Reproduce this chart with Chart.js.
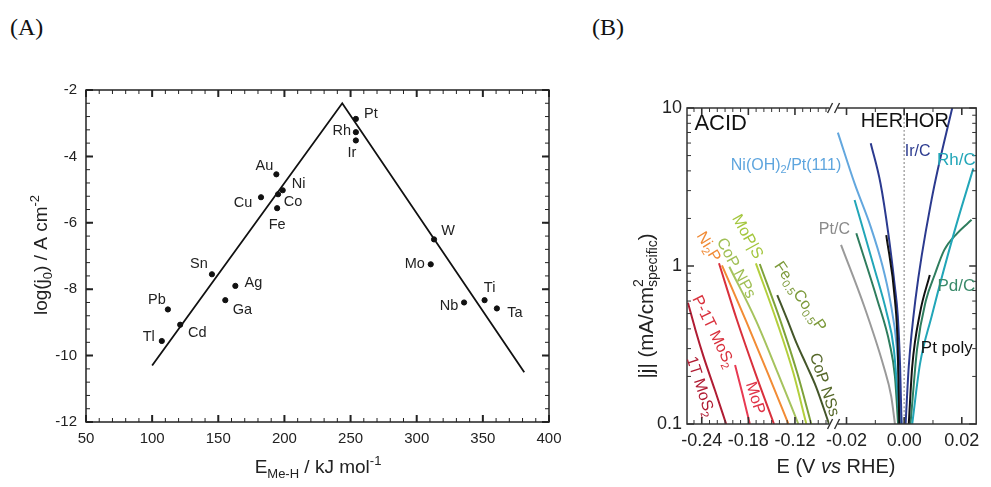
<!DOCTYPE html>
<html>
<head>
<meta charset="utf-8">
<script src="https://cdn.jsdelivr.net/npm/chart.js@4.4.1/dist/chart.umd.min.js"></script>
<style>
  body { margin: 0; background: #fff; width: 991px; height: 487px; position: relative; overflow: hidden; }
  .tag { position: absolute; top: 14px; font: 24px "Liberation Serif", "Times New Roman", serif; color: #111; }
  canvas { position: absolute; top: 0; }
</style>
</head>
<body>
<div class="tag" style="left:10px">(A)</div>
<div class="tag" style="left:592px">(B)</div>
<canvas id="chartA" width="575" height="487" style="left:0"></canvas>
<canvas id="chartB" width="416" height="487" style="left:575px"></canvas>
<script>
// ---- panel A : volcano plot ----
const metals = ['Pt', 'Rh', 'Ir', 'Au', 'Ni', 'Co', 'Cu', 'Fe', 'W', 'Mo', 'Sn', 'Ag', 'Ga', 'Pb', 'Cd', 'Tl', 'Ti', 'Nb', 'Ta'];
const bondEnergy = [254, 254, 254, 193.9, 198.7, 195.2, 182.3, 194.5, 313.1, 310.6, 145.2, 162.9, 155.3, 111.9, 121.2, 107.3, 351.3, 335.8, 360.6];
const logJ0 = [-2.87, -3.27, -3.52, -4.54, -5.02, -5.14, -5.23, -5.56, -6.50, -7.25, -7.55, -7.90, -8.33, -8.61, -9.07, -9.56, -8.33, -8.40, -8.58];
const volcanoE = [100, 243.7, 381.3];
const volcanoLogJ = [-10.3, -2.4, -10.5];
const xTicksA = [50, 100, 150, 200, 250, 300, 350, 400];
const yTicksA = [-12, -10, -8, -6, -4, -2];

// ---- panel B : polarization curves (E in V vs RHE, |j| in mA/cm2) ----
const e1TMoS2 = [-0.2578, -0.2481, -0.2377, -0.2231, -0.2086];
const j1TMoS2 = [0.586, 0.394, 0.267, 0.164, 0.1];
const eP1TMoS2 = [-0.2178, -0.1950, -0.1710, -0.1470];
const jP1TMoS2 = [1.04, 0.46, 0.21, 0.1];
const eMoP = [-0.1971, -0.1875, -0.1781];
const jMoP = [0.236, 0.155, 0.1];
const eNi2P = [-0.2140, -0.1830, -0.1550, -0.1284];
const jNi2P = [1.01, 0.45, 0.21, 0.1];
const eCoPNPs = [-0.2045, -0.1700, -0.1420, -0.1156];
const jCoPNPs = [0.99, 0.45, 0.21, 0.1];
const eMoPS = [-0.1703, -0.1430, -0.1220, -0.1053];
const jMoPS = [1.04, 0.44, 0.21, 0.1];
const eFeCoP = [-0.1653, -0.1380, -0.1170, -0.0990];
const jFeCoP = [1.03, 0.44, 0.21, 0.1];
const eCoPNSs = [-0.1428, -0.1300, -0.1178, -0.1050, -0.0928, -0.0761];
const jCoPNSs = [0.655, 0.46, 0.324, 0.235, 0.172, 0.1];

const eNiOHPt = [-0.0230, -0.0172, -0.0116, -0.0075, -0.0049, -0.0025, -0.0009];
const jNiOHPt = [6.98, 3.33, 1.77, 1.0, 0.61, 0.3, 0.1];
const eIrHer = [-0.0116, -0.0082, -0.0055, -0.0033, -0.0022, -0.0014, -0.0009];
const jIrHer = [5.99, 3.33, 1.61, 0.76, 0.48, 0.23, 0.1];
const eIrHor = [0.0005, 0.0016, 0.0039, 0.0095, 0.0173];
const jIrHor = [0.1, 0.231, 0.61, 2.62, 11.2];
const eRhHer = [-0.0172, -0.0105, -0.0060, -0.0036, -0.0015];
const jRhHer = [2.62, 0.99, 0.5, 0.3, 0.1];
const eRhHor = [0.0028, 0.0055, 0.0095, 0.0173, 0.0240];
const jRhHor = [0.1, 0.24, 0.478, 1.62, 4.15];
const ePdHer = [-0.0166, -0.0093, -0.0050, -0.0032, -0.0021];
const jPdHer = [1.61, 0.61, 0.32, 0.2, 0.1];
const ePdHor = [0.0022, 0.0045, 0.0075, 0.0106, 0.0139, 0.0184, 0.0234];
const jPdHor = [0.1, 0.3, 0.6, 0.88, 1.26, 1.61, 1.96];
const ePtPolyHer = [-0.0062, -0.0032, -0.0022, -0.0017];
const jPtPolyHer = [1.57, 0.61, 0.3, 0.1];
const ePtPolyHor = [0.0016, 0.0028, 0.0055, 0.0089];
const jPtPolyHor = [0.1, 0.231, 0.505, 0.877];
const ePtC = [-0.0219, -0.0138, -0.0071, -0.0045, -0.0032];
const jPtC = [1.36, 0.552, 0.231, 0.15, 0.1];
const zeroE = [0, 0];
const zeroJ = [0.1, 10];

const xTicksL = [-0.24, -0.18, -0.12];
const xTicksR = [-0.02, 0, 0.02];
const yTicksB = [0.1, 1, 10];

const FONT = '"Liberation Sans", Arial, Helvetica, sans-serif';

// label placement (pixel offsets from the dot)
const labelOffsetA = {
  Pt: [15, -5], Rh: [-14, -1], Ir: [-4, 13], Au: [-12, -8], Ni: [16, -6], Co: [15, 8],
  Cu: [-18, 6], Fe: [0, 17], W: [14, -8], Mo: [-16, 0], Sn: [-13, -10], Ag: [18, -3],
  Ga: [17, 10], Pb: [-11, -9], Cd: [17, 8], Tl: [-13, -4], Ti: [5, -12], Nb: [-15, 4], Ta: [18, 5]
};

function range(a, b, step) {
  const out = [];
  for (let v = a; v <= b + step / 1000; v += step) out.push(+v.toFixed(6));
  return out;
}

// tiny rich-text: _{sub} ^{sup} *italic*
function parseRich(s) {
  const parts = [];
  s.split(/(\^\{[^}]*\}|_\{[^}]*\}|\*[^*]*\*)/).forEach(tok => {
    if (!tok) return;
    if (tok[0] === '^' || tok[0] === '_') {
      const key = tok[0] === '^' ? 'sup' : 'sub';
      const val = tok.slice(2, -1);
      const last = parts[parts.length - 1];
      if (last && last.t === undefined && !last[key]) last[key] = val;
      else parts.push({ [key]: val });
    } else if (tok[0] === '*') {
      parts.push({ t: tok.slice(1, -1), it: true });
    } else {
      parts.push({ t: tok });
    }
  });
  return parts;
}

function richText(ctx, str, x, y, size, color, angleDeg) {
  const parts = parseRich(str);
  const small = Math.round(size * 0.7);
  const font = (s, it) => (it ? 'italic ' : '') + s + 'px ' + FONT;
  ctx.save();
  ctx.translate(x, y);
  ctx.rotate((angleDeg || 0) * Math.PI / 180);
  ctx.fillStyle = color;
  ctx.textBaseline = 'middle';
  ctx.textAlign = 'left';
  let total = 0;
  const widths = parts.map(p => {
    let w;
    if (p.t !== undefined) {
      ctx.font = font(size, p.it);
      w = ctx.measureText(p.t).width;
    } else {
      ctx.font = font(small);
      w = Math.max(ctx.measureText(p.sub || '').width, ctx.measureText(p.sup || '').width);
    }
    total += w;
    return w;
  });
  let cx = -total / 2;
  parts.forEach((p, i) => {
    if (p.t !== undefined) {
      ctx.font = font(size, p.it);
      ctx.fillText(p.t, cx, 0);
    } else {
      ctx.font = font(small);
      if (p.sup) ctx.fillText(p.sup, cx, -size * 0.36);
      if (p.sub) ctx.fillText(p.sub, cx, size * 0.32);
    }
    cx += widths[i];
  });
  ctx.restore();
}

function tickMarks(ctx, scale, values, len, area, horizontal) {
  values.forEach(v => {
    const p = scale.getPixelForValue(v);
    if (horizontal) {
      if (p < scale.left - 0.5 || p > scale.right + 0.5) return;
      ctx.moveTo(p, area.bottom); ctx.lineTo(p, area.bottom - len);
      ctx.moveTo(p, area.top); ctx.lineTo(p, area.top + len);
    } else {
      if (p < area.top - 0.5 || p > area.bottom + 0.5) return;
      ctx.moveTo(area.left, p); ctx.lineTo(area.left + len, p);
      ctx.moveTo(area.right, p); ctx.lineTo(area.right - len, p);
    }
  });
}

const fixedTicks = vals => scale => { scale.ticks = vals.map(v => ({ value: v })); };

// ================= chart A =================
const frameA = {
  id: 'frameA',
  afterDatasetsDraw(chart) {
    const { ctx, chartArea: a, scales: { x, y } } = chart;
    ctx.save();
    ctx.strokeStyle = '#222';
    ctx.lineWidth = 1.5;
    ctx.strokeRect(a.left, a.top, a.right - a.left, a.bottom - a.top);
    ctx.beginPath();
    tickMarks(ctx, x, xTicksA, 7, a, true);
    tickMarks(ctx, y, yTicksA, 7, a, false);
    ctx.lineWidth = 2;
    ctx.stroke();
    ctx.beginPath();
    tickMarks(ctx, x, range(50, 400, 10).filter(v => v % 50 !== 0), 4, a, true);
    tickMarks(ctx, y, range(-12, -2, 0.4), 4, a, false);
    ctx.lineWidth = 1;
    ctx.stroke();

    ctx.font = '14.5px ' + FONT;
    ctx.fillStyle = '#222';
    ctx.textAlign = 'center';
    ctx.textBaseline = 'middle';
    metals.forEach((m, i) => {
      const o = labelOffsetA[m];
      ctx.fillText(m, x.getPixelForValue(bondEnergy[i]) + o[0], y.getPixelForValue(logJ0[i]) + o[1]);
    });

    richText(ctx, 'log(j_{0}) / A cm^{-2}', 42, 255, 19, '#222', -90);
    richText(ctx, 'E_{Me-H} / kJ mol^{-1}', 318, 468, 19, '#222', 0);
    ctx.restore();
  }
};

new Chart(document.getElementById('chartA'), {
  type: 'scatter',
  data: {
    datasets: [
      {
        label: 'metals',
        data: metals.map((m, i) => ({ x: bondEnergy[i], y: logJ0[i] })),
        backgroundColor: '#111', borderColor: '#111',
        pointRadius: 2.6, pointHoverRadius: 2.6
      },
      {
        label: 'volcano',
        data: volcanoE.map((e, i) => ({ x: e, y: volcanoLogJ[i] })),
        showLine: true, borderColor: '#111', borderWidth: 1.8,
        pointRadius: 0, fill: false
      }
    ]
  },
  options: {
    responsive: false, animation: false, events: [],
    layout: { padding: { top: 90, right: 26, left: 0, bottom: 0 } },
    plugins: { legend: { display: false }, tooltip: { enabled: false } },
    scales: {
      x: {
        type: 'linear', min: 50, max: 400,
        grid: { display: false, drawTicks: false }, border: { display: false },
        afterBuildTicks: fixedTicks(xTicksA),
        afterFit: s => { s.height = 65; },
        ticks: { padding: 8, font: { size: 15, family: FONT }, color: '#222', maxRotation: 0, autoSkip: false }
      },
      y: {
        type: 'linear', min: -12, max: -2,
        grid: { display: false, drawTicks: false }, border: { display: false },
        afterBuildTicks: fixedTicks(yTicksA),
        afterFit: s => { s.width = 86; },
        ticks: { padding: 9, font: { size: 15, family: FONT }, color: '#222', autoSkip: false }
      }
    }
  },
  plugins: [frameA]
});

// ================= chart B =================
const pts = (es, js) => es.map((e, i) => ({ x: e, y: js[i] }));
const curve = (label, axis, es, js, color, dash) => ({
  label, xAxisID: axis, yAxisID: 'y', data: pts(es, js),
  borderColor: color, borderWidth: dash ? 1.3 : 2, borderDash: dash || [],
  pointRadius: 0, showLine: true, fill: false, cubicInterpolationMode: 'monotone'
});

const labelsB = [
  { text: 'ACID', axis: 'xL', e: -0.2156, j: 7.89, size: 22, color: '#111' },
  { text: 'Ni(OH)_{2}/Pt(111)', axis: 'xL', e: -0.1315, j: 4.35, size: 16, color: '#5ea5de' },
  { text: '1T MoS_{2}', axis: 'xL', e: -0.2419, j: 0.172, size: 16, color: '#b01c33', rot: 72 },
  { text: 'P-1T MoS_{2}', axis: 'xL', e: -0.2253, j: 0.384, size: 16, color: '#d9303c', rot: 64 },
  { text: 'MoP', axis: 'xL', e: -0.1715, j: 0.146, size: 16, color: '#e03448', rot: 72 },
  { text: 'Ni_{2}P', axis: 'xL', e: -0.2315, j: 1.32, size: 16, color: '#f08a35', rot: 59 },
  { text: 'CoP NPs', axis: 'xL', e: -0.1961, j: 0.967, size: 16, color: '#a0bf55', rot: 62 },
  { text: 'MoP|S', axis: 'xL', e: -0.1815, j: 1.53, size: 16, color: '#a3c63c', rot: 61 },
  { text: 'Fe_{0.5}Co_{0.5}P', axis: 'xL', e: -0.1136, j: 0.64, size: 16, color: '#7c9a3a', rot: 56 },
  { text: 'CoP NSs', axis: 'xL', e: -0.0824, j: 0.177, size: 16, color: '#56682a', rot: 72 },
  { text: 'HER', axis: 'xR', e: -0.0077, j: 8.27, size: 20, color: '#111' },
  { text: 'HOR', axis: 'xR', e: 0.0078, j: 8.27, size: 20, color: '#111' },
  { text: 'Pt/C', axis: 'xR', e: -0.0242, j: 1.69, size: 16, color: '#8a8a8a' },
  { text: 'Ir/C', axis: 'xR', e: 0.0047, j: 5.28, size: 16, color: '#2b3a8f' },
  { text: 'Rh/C', axis: 'xR', e: 0.0181, j: 4.69, size: 17, color: '#22a6b8' },
  { text: 'Pd/C', axis: 'xR', e: 0.0181, j: 0.74, size: 17, color: '#3a8a6a' },
  { text: 'Pt poly', axis: 'xR', e: 0.0148, j: 0.301, size: 17, color: '#111' }
];

const frameB = {
  id: 'frameB',
  afterDatasetsDraw(chart) {
    const { ctx, chartArea: a, scales } = chart;
    const { xL, xR, y } = scales;
    ctx.save();
    ctx.strokeStyle = '#333';
    ctx.lineWidth = 1.5;
    ctx.strokeRect(a.left, a.top, a.right - a.left, a.bottom - a.top);
    ctx.beginPath();
    tickMarks(ctx, xL, xTicksL, 7, a, true);
    tickMarks(ctx, xR, xTicksR, 7, a, true);
    tickMarks(ctx, y, yTicksB, 7, a, false);
    ctx.lineWidth = 1.6;
    ctx.stroke();
    ctx.beginPath();
    tickMarks(ctx, xL, range(-0.25, -0.08, 0.01).filter(v => !xTicksL.includes(v)), 4, a, true);
    tickMarks(ctx, xR, [-0.01, 0.01], 4, a, true);
    tickMarks(ctx, y, [0.2, 0.3, 0.4, 0.5, 0.6, 0.7, 0.8, 0.9, 2, 3, 4, 5, 6, 7, 8, 9], 4, a, false);
    ctx.lineWidth = 1;
    ctx.stroke();

    // axis break marks
    const bx = xL.right;
    [a.top, a.bottom].forEach(yy => {
      ctx.fillStyle = '#fff';
      ctx.fillRect(bx - 4, yy - 3, 8, 6);
      ctx.beginPath();
      ctx.moveTo(bx - 6, yy + 5); ctx.lineTo(bx - 1, yy - 5);
      ctx.moveTo(bx + 1, yy + 5); ctx.lineTo(bx + 6, yy - 5);
      ctx.strokeStyle = '#333';
      ctx.lineWidth = 1.4;
      ctx.stroke();
    });

    labelsB.forEach(l => {
      richText(ctx, l.text, scales[l.axis].getPixelForValue(l.e), y.getPixelForValue(l.j), l.size, l.color, l.rot || 0);
    });

    richText(ctx, '|j| (mA/cm^{2}_{specific})', 72, 306, 20.5, '#222', -90);
    richText(ctx, 'E (V *vs* RHE)', 261, 467, 20, '#222', 0);
    ctx.restore();
  }
};

new Chart(document.getElementById('chartB'), {
  type: 'scatter',
  data: {
    datasets: [
      curve('zero', 'xR', zeroE, zeroJ, '#999', [2, 2]),
      curve('1T MoS2', 'xL', e1TMoS2, j1TMoS2, '#b01c33'),
      curve('P-1T MoS2', 'xL', eP1TMoS2, jP1TMoS2, '#d9303c'),
      curve('MoP', 'xL', eMoP, jMoP, '#e83a52'),
      curve('Ni2P', 'xL', eNi2P, jNi2P, '#f28c35'),
      curve('CoP NPs', 'xL', eCoPNPs, jCoPNPs, '#a6c35e'),
      curve('MoP|S', 'xL', eMoPS, jMoPS, '#b3cf3d'),
      curve('Fe0.5Co0.5P', 'xL', eFeCoP, jFeCoP, '#7ea23a'),
      curve('CoP NSs', 'xL', eCoPNSs, jCoPNSs, '#44562a'),
      curve('Pt poly HER', 'xR', ePtPolyHer, jPtPolyHer, '#111'),
      curve('Pt poly HOR', 'xR', ePtPolyHor, jPtPolyHor, '#111'),
      curve('Ir/C HER', 'xR', eIrHer, jIrHer, '#2b3a8f'),
      curve('Ir/C HOR', 'xR', eIrHor, jIrHor, '#2b3a8f'),
      curve('Rh/C HER', 'xR', eRhHer, jRhHer, '#22a6b8'),
      curve('Rh/C HOR', 'xR', eRhHor, jRhHor, '#22a6b8'),
      curve('Pd/C HER', 'xR', ePdHer, jPdHer, '#2f7d5e'),
      curve('Pd/C HOR', 'xR', ePdHor, jPdHor, '#2f7d5e'),
      curve('Ni(OH)2/Pt(111)', 'xR', eNiOHPt, jNiOHPt, '#63a7de'),
      curve('Pt/C', 'xR', ePtC, jPtC, '#9a9a9a')
    ]
  },
  options: {
    responsive: false, animation: false, events: [],
    layout: { padding: { top: 108, right: 6, left: 0, bottom: 0 } },
    plugins: { legend: { display: false }, tooltip: { enabled: false } },
    scales: {
      xL: {
        type: 'linear', position: 'bottom', stack: 'E', stackWeight: 151,
        min: -0.259, max: -0.0703,
        grid: { display: false, drawTicks: false }, border: { display: false },
        afterBuildTicks: fixedTicks(xTicksL),
        afterFit: s => { s.height = 63; },
        ticks: { padding: 6, font: { size: 18, family: FONT }, color: '#222', maxRotation: 0, autoSkip: false,
                 callback: v => v.toFixed(2) }
      },
      xR: {
        type: 'linear', position: 'bottom', stack: 'E', stackWeight: 147,
        min: -0.0245, max: 0.025,
        grid: { display: false, drawTicks: false }, border: { display: false },
        afterBuildTicks: fixedTicks(xTicksR),
        afterFit: s => { s.height = 63; },
        ticks: { padding: 6, font: { size: 18, family: FONT }, color: '#222', maxRotation: 0, autoSkip: false,
                 callback: v => v.toFixed(2) }
      },
      y: {
        type: 'logarithmic', position: 'left', min: 0.1, max: 10,
        grid: { display: false, drawTicks: false }, border: { display: false },
        afterBuildTicks: fixedTicks(yTicksB),
        afterFit: s => { s.width = 112; },
        ticks: { padding: 5, font: { size: 18, family: FONT }, color: '#222', autoSkip: false,
                 callback: v => String(v) }
      }
    }
  },
  plugins: [frameB]
});
</script>
</body>
</html>
